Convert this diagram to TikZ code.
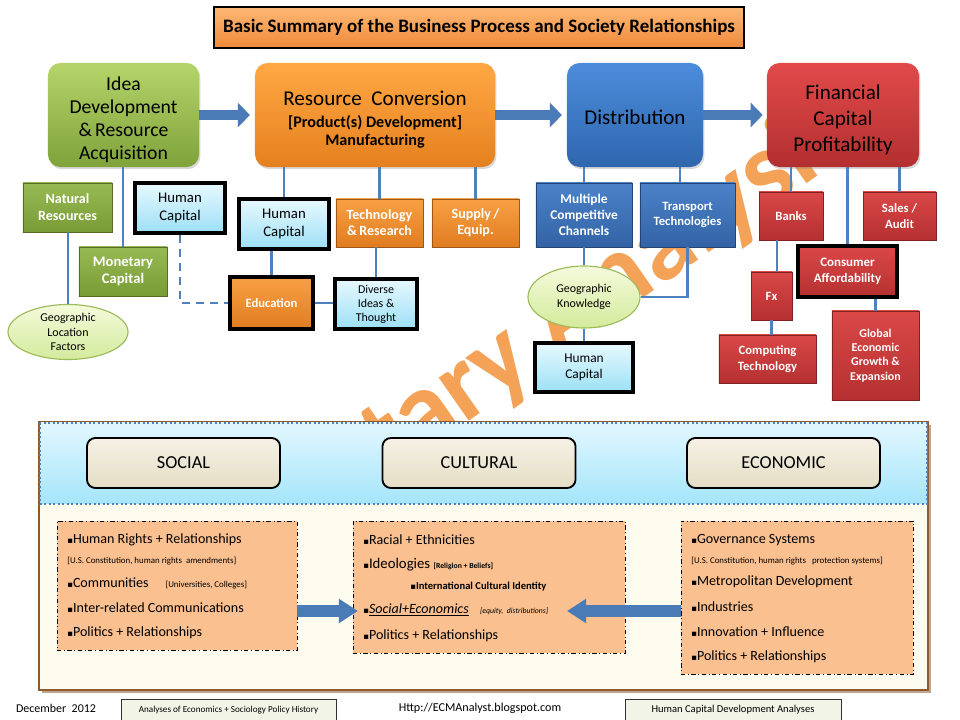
\documentclass[tikz,border=0pt]{standalone}
\usepackage{fontspec}
\setmainfont{Carlito}
\newfontfamily\symfont{DejaVu Sans}
\usetikzlibrary{arrows.meta,shapes.geometric,positioning,shadows}

\definecolor{linkblue}{HTML}{4F81BD}
\definecolor{arrowblue}{HTML}{4A7BB7}
\definecolor{greentop}{HTML}{B5D56A}
\definecolor{greenbot}{HTML}{7FA23B}
\definecolor{orangetop}{HTML}{FFA843}
\definecolor{orangebot}{HTML}{E6801F}
\definecolor{bluetop}{HTML}{4C8DDB}
\definecolor{bluebot}{HTML}{2F66AE}
\definecolor{redtop}{HTML}{E24A4A}
\definecolor{redbot}{HTML}{B32F2F}
\definecolor{gsubtop}{HTML}{97BA55}
\definecolor{gsubbot}{HTML}{789B35}
\definecolor{osubtop}{HTML}{F9A044}
\definecolor{osubbot}{HTML}{E07C20}
\definecolor{bsubtop}{HTML}{4B82C9}
\definecolor{bsubbot}{HTML}{3363A5}
\definecolor{rsubtop}{HTML}{DA4848}
\definecolor{rsubbot}{HTML}{B53030}
\definecolor{cyantop}{HTML}{E8F9FF}
\definecolor{cyanbot}{HTML}{9CE0F5}
\definecolor{limetop}{HTML}{F4FADC}
\definecolor{limebot}{HTML}{D4EB9C}
\definecolor{limeline}{HTML}{9BBB59}
\definecolor{peach}{HTML}{FAC090}
\definecolor{cream}{HTML}{FDFAEE}
\definecolor{tabtop}{HTML}{F6F2E6}
\definecolor{tabbot}{HTML}{E4DDC5}
\definecolor{paneltop}{HTML}{E2F7FF}
\definecolor{panelbot}{HTML}{A5E5FA}
\definecolor{panelrim}{HTML}{8E5A2E}
\definecolor{wmcolor}{HTML}{F4A257}
\definecolor{footfill}{HTML}{F3F4E8}
\definecolor{titletop}{HTML}{FDB774}
\definecolor{titlebot}{HTML}{EE8A3A}

\newcommand{\bul}{{\symfont\fontsize{6}{6}\selectfont\char"25AA}}

\begin{document}
\begin{tikzpicture}[
  x=0.025cm, y=-0.025cm,
  main/.style={rounded corners=9pt, align=center, drop shadow={opacity=0.3, shadow xshift=1pt, shadow yshift=-1.5pt}},
  sub/.style={align=center, text=white, inner sep=1pt, font=\bfseries\fontsize{10}{11.5}\selectfont},
  gsub/.style={sub, top color=gsubtop, bottom color=gsubbot, draw=gsubbot!70!black, line width=0.4pt},
  osub/.style={sub, top color=osubtop, bottom color=osubbot, draw=osubbot!70!black, line width=0.4pt},
  bsub/.style={sub, top color=bsubtop, bottom color=bsubbot, draw=bsubbot!70!black, line width=0.4pt},
  rsub/.style={sub, top color=rsubtop, bottom color=rsubbot, draw=rsubbot!70!black, line width=0.4pt},
  hc/.style={draw=black, line width=2.2pt, top color=cyantop, bottom color=cyanbot, align=center, inner sep=1pt, font=\fontsize{10.5}{12.5}\selectfont},
  oval/.style={ellipse, draw=limeline, line width=0.8pt, top color=limetop, bottom color=limebot, align=center, inner sep=0pt, font=\fontsize{8.5}{10.5}\selectfont},
  link/.style={draw=linkblue, line width=1.6pt},
  bigarrow/.style={draw=arrowblue, line width=7.5pt, -{Triangle[length=0.3cm, width=0.6cm]}},
  flatarrow/.style={draw=arrowblue, line width=9pt, -{Triangle[length=0.48cm, width=0.58cm]}},
  tab/.style={rounded corners=6pt, draw=black, line width=1.3pt, top color=tabtop, bottom color=tabbot, minimum width=4.825cm, minimum height=1.25cm, font=\fontsize{13}{15}\selectfont},
  listbox/.style={draw=black, dash dot, line width=0.5pt, fill=peach},
  item/.style={anchor=west, inner sep=0pt, font=\fontsize{10}{12}\selectfont},
  note/.style={anchor=west, inner sep=0pt, font=\fontsize{6.3}{7}\selectfont},
  footbox/.style={draw=black!80, line width=0.6pt, fill=footfill, minimum height=0.55cm},
]
\useasboundingbox (0,0) rectangle (960,720);
\fill[white] (0,0) rectangle (960,720);

\node[rotate=35, anchor=base west, inner sep=0pt, text=wmcolor, font=\bfseries\fontsize{77}{77}\selectfont] (wmark) at (390,476) {tary Analysis};

\node[draw=black, line width=1.2pt, top color=titletop, bottom color=titlebot, minimum width=13.25cm, minimum height=1.025cm, font=\bfseries\fontsize{13.5}{15}\selectfont] (title) at (479,27.5) {Basic Summary of the Business Process and Society Relationships};

\node[main, top color=greentop, bottom color=greenbot, minimum width=3.775cm, minimum height=2.6cm, font=\fontsize{14}{16.4}\selectfont] (idea) at (123.5,115) {\rule{0pt}{16pt}Idea\\Development\\\&\,Resource\\Acquisition};
\node[main, top color=orangetop, bottom color=orangebot, minimum width=6cm, minimum height=2.6cm, font=\bfseries\fontsize{11.5}{12.8}\selectfont] (conv) at (375,115) {{\mdseries\fontsize{15}{18}\selectfont\rule{0pt}{17pt}Resource\ \ Conversion}\\[3pt][Product(s) Development]\\Manufacturing};
\node[main, top color=bluetop, bottom color=bluebot, minimum width=3.4cm, minimum height=2.6cm, font=\fontsize{15}{18}\selectfont] (dist) at (635,115) {\rule{0pt}{14pt}Distribution};
\node[main, top color=redtop, bottom color=redbot, minimum width=3.8cm, minimum height=2.6cm, font=\fontsize{15}{18.5}\selectfont] (fin) at (843,115) {\rule{0pt}{17pt}Financial\\Capital\\Profitability};

\draw[bigarrow, shorten >=0.12cm] (idea.east) -- (conv.west);
\draw[bigarrow, shorten >=0.12cm] (conv.east) -- (dist.west);
\draw[bigarrow, shorten >=0.1cm] (dist.east) -- (fin.west);

\node[gsub, minimum width=2.225cm, minimum height=1.225cm, font=\bfseries\fontsize{10}{12}\selectfont] (natres) at (67.5,207.5) {Natural\\Resources};
\node[gsub, minimum width=2.2cm, minimum height=1.225cm, font=\bfseries\fontsize{10.4}{12}\selectfont] (monet) at (123,271.5) {Monetary\\Capital};
\node[hc, minimum width=2.25cm, minimum height=1.25cm] (hcA) at (180,208) {Human\\Capital};
\node[hc, minimum width=2.25cm, minimum height=1.25cm] (hcB) at (284,224) {Human\\Capital};
\node[osub, minimum width=2.175cm, minimum height=1.2cm] (tech) at (379.5,223) {Technology\\\&\,Research};
\node[osub, minimum width=2.175cm, minimum height=1.2cm] (supply) at (475.5,223) {Supply\,/\\Equip.};
\node[osub, draw=black, line width=2.2pt, minimum width=2.075cm, minimum height=1.3cm, font=\bfseries\fontsize{9}{11}\selectfont] (educ) at (271.5,303) {Education};
\node[hc, minimum width=2.05cm, minimum height=1.25cm, font=\fontsize{8.5}{10}\selectfont] (diverse) at (376,304) {Diverse\\Ideas \&\\Thought};
\node[oval, minimum width=3cm, minimum height=1.375cm] (geoloc) at (68,332) {Geographic\\Location\\Factors};

\node[bsub, minimum width=2.4cm, minimum height=1.6cm, font=\bfseries\fontsize{9.5}{11.4}\selectfont] (mcc) at (584,215) {Multiple\\Competitive\\Channels};
\node[bsub, minimum width=2.375cm, minimum height=1.6cm, font=\bfseries\fontsize{9}{11}\selectfont] (trans) at (687.5,215) {Transport\\Technologies};
\node[oval, minimum width=2.8cm, minimum height=1.55cm, font=\fontsize{8.5}{10.7}\selectfont] (geoknow) at (584,297) {Geographic\\Knowledge};
\node[hc, minimum width=2.45cm, minimum height=1.225cm, font=\fontsize{9.5}{11.5}\selectfont] (hcC) at (584,367.5) {Human\\Capital};

\node[rsub, minimum width=1.6cm, minimum height=1.2cm, font=\bfseries\fontsize{9}{11}\selectfont] (banks) at (791,216) {Banks};
\node[rsub, minimum width=1.825cm, minimum height=1.2cm, font=\bfseries\fontsize{9}{11.4}\selectfont] (sales) at (899.5,216) {Sales /\\Audit};
\node[rsub, draw=black, line width=2.2pt, minimum width=2.475cm, minimum height=1.275cm, font=\bfseries\fontsize{9.2}{11.4}\selectfont] (consum) at (847.5,271.5) {Consumer\\Affordability};
\node[rsub, minimum width=1.025cm, minimum height=1.2cm, font=\bfseries\fontsize{9}{11}\selectfont] (fx) at (771.5,296) {Fx};
\node[rsub, minimum width=2.425cm, minimum height=1.2cm, font=\bfseries\fontsize{9}{11.4}\selectfont] (comput) at (767.5,359) {Computing\\Technology};
\node[rsub, minimum width=2.175cm, minimum height=2.225cm, font=\bfseries\fontsize{8.5}{10.3}\selectfont] (global) at (875.5,355.5) {Global\\Economic\\Growth \&\\Expansion};

\coordinate (transtop) at ([xshift=-0.19cm]trans.north);
\coordinate (fxtop) at ([xshift=0.14cm]fx.north);
\draw[link] (monet.north |- idea.south) -- (monet.north);
\draw[link] (hcB.north |- conv.south) -- (hcB.north);
\draw[link] (tech.north |- conv.south) -- (tech.north);
\draw[link] (supply.north |- conv.south) -- (supply.north);
\draw[link] (mcc.north |- dist.south) -- (mcc.north);
\draw[link] (transtop |- dist.south) -- (transtop);
\draw[link] (banks.north |- fin.south) -- (banks.north);
\draw[link] (consum.north |- fin.south) -- (consum.north);
\draw[link] (sales.north |- fin.south) -- (sales.north);
\draw[link] (geoloc.north |- natres.south) -- (geoloc.north);
\draw[link, dash pattern=on 6pt off 4pt] (hcA.south) |- (educ.west);
\draw[link] (educ.north) -- (educ.north |- hcB.south);
\draw[link] (educ.east) -- (educ.east -| diverse.west);
\draw[link] (diverse.north) -- (diverse.north |- tech.south);
\draw[link] (mcc.south) -- (geoknow.north);
\draw[link] (geoknow.south) -- (hcC.north);
\draw[link] (trans.south) |- (geoknow.east);
\draw[link] (fxtop) -- (fxtop |- banks.south);
\draw[link] (fx.south) -- (fx.south |- comput.north);
\draw[link] (global.north) -- (global.north |- consum.south);

\fill[panelrim!55] (42,425) rectangle (931,693);
\draw[panelrim, line width=1.5pt, fill=cream] (39,422) rectangle (928,690);
\shade[top color=paneltop, bottom color=panelbot] (40,423) rectangle (927,504);
\draw[linkblue, dotted, line width=1.2pt] (40,423) rectangle (927,504);

\node[tab] (social) at (183.5,463) {SOCIAL};
\node[tab] (cultural) at (479,463) {CULTURAL};
\node[tab] (economic) at (783.5,463) {ECONOMIC};

\node[listbox, minimum width=6cm, minimum height=3.225cm] (socbox) at (177,585.5) {};
\node[listbox, minimum width=6.8cm, minimum height=3.3cm] (culbox) at (489,587) {};
\node[listbox, minimum width=5.8cm, minimum height=3.825cm] (ecobox) at (797,597.5) {};

\node[item] (s1) at (67,540) {\bul Human Rights + Relationships};
\node[note] (s2) at (67,561) {[U.S. Constitution, human rights\ \ amendments]};
\node[item] (s3) at (67,583) {\bul Communities\hspace{1.2em}{\fontsize{6.3}{7}\selectfont[Universities, Colleges]}};
\node[item] (s4) at (67,608) {\bul Inter-related Communications};
\node[item] (s5) at (67,633) {\bul Politics + Relationships};

\node[item] (c1) at (363,540) {\bul Racial + Ethnicities};
\node[item, font=\fontsize{10.5}{12}\selectfont] (c2) at (363,565) {\bul Ideologies {\bfseries\fontsize{5.5}{6}\selectfont[Religion + Beliefs]}};
\node[item, font=\bfseries\fontsize{7.5}{9}\selectfont] (c3) at (410,587) {\bul International Cultural Identity};
\node[item] (c4) at (363,610) {\bul\underline{\itshape Social+Economics}\hspace{0.8em}{\itshape\fontsize{5.5}{6}\selectfont[equity,\ \ distributions]}};
\node[item] (c5) at (363,636) {\bul Politics + Relationships};

\node[item] (e1) at (691,540) {\bul Governance Systems};
\node[note] (e2) at (691,561) {[U.S. Constitution, human rights\ \ \ protection systems]};
\node[item] (e3) at (691,582) {\bul Metropolitan Development};
\node[item] (e4) at (691,607) {\bul Industries};
\node[item] (e5) at (691,632) {\bul Innovation + Influence};
\node[item] (e6) at (691,657) {\bul Politics + Relationships};

\coordinate (soctip) at (358,611);
\coordinate (ecotip) at (567,611);
\draw[flatarrow] (socbox.east |- soctip) -- (soctip);
\draw[flatarrow] (ecobox.west |- ecotip) -- (ecotip);

\node[font=\fontsize{8.5}{10}\selectfont] (date) at (56,708) {December\ \ 2012};
\node[footbox, minimum width=5.375cm, font=\fontsize{6.5}{8}\selectfont] (hist) at (228.5,710) {Analyses of Economics + Sociology Policy History};
\node[font=\fontsize{8.6}{10}\selectfont] (url) at (480,708) {Http://ECMAnalyst.blogspot.com};
\node[footbox, minimum width=5.4cm, font=\fontsize{7.5}{9}\selectfont] (hcda) at (733,710) {Human Capital Development Analyses};
\end{tikzpicture}
\end{document}
